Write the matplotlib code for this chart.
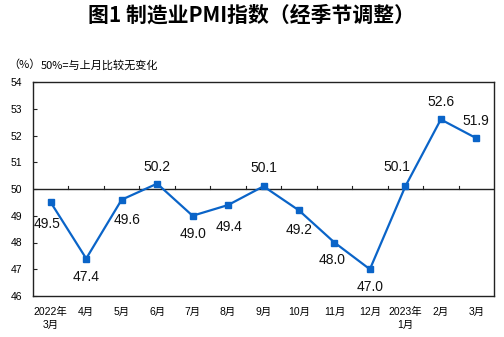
import matplotlib
matplotlib.use("Agg")
import matplotlib.pyplot as plt

plt.rcParams["font.family"] = ["Liberation Sans", "Noto Sans CJK SC", "DejaVu Sans"]

months = ["2022年\n3月", "4月", "5月", "6月", "7月", "8月", "9月",
          "10月", "11月", "12月", "2023年\n1月", "2月", "3月"]
pmi = [49.5, 47.4, 49.6, 50.2, 49.0, 49.4, 50.1, 49.2, 48.0, 47.0, 50.1, 52.6, 51.9]
# label offsets in pixels (dx, dy downward)
label_offsets = [(-4, 22), (0, 18), (5, 20), (0, -17), (0, 18), (1, 22), (0, -18),
                 (0, 20), (-2, 18), (0, 18), (-8, -19), (0, -17), (0, -17)]
y_ticks = [46, 47, 48, 49, 50, 51, 52, 53, 54]

BLUE = "#0A64C8"
DPI = 100

fig = plt.figure(figsize=(5.04, 3.37), dpi=DPI)
ax = fig.add_axes([33 / 504, 41 / 337, 461 / 504, 214 / 337])

x = list(range(len(pmi)))
ax.plot(x, pmi, color=BLUE, lw=1.6, marker="s", ms=4.2, zorder=3)

for xi, v, (dx, dy) in zip(x, pmi, label_offsets):
    ax.annotate(f"{v:.1f}", (xi, v), xytext=(dx * 0.72, -dy * 0.72),
                textcoords="offset points", ha="center", va="center",
                fontsize=10, color="#111111")

# 50% reference line with small separators between months
ax.axhline(50, color="#222222", lw=1.0, zorder=2)
for b in range(len(pmi) - 1):
    ax.plot([b + 0.5, b + 0.5], [50, 50.11], color="#222222", lw=0.8, zorder=2)

ax.set_xlim(-0.5, len(pmi) - 0.5)
ax.set_ylim(46, 54)
ax.set_yticks(y_ticks)
ax.set_xticks(x)
ax.set_xticklabels(months, fontsize=7.5, linespacing=1.3,
                   family=["Liberation Sans", "Noto Sans CJK SC"])
ax.tick_params(axis="x", length=0, pad=8)
ax.tick_params(axis="y", direction="in", length=3, width=0.8, labelsize=7.5, pad=8,
               color="#222222")
for s in ax.spines.values():
    s.set_color("#222222")
    s.set_linewidth(1.0)

fig.text(0.5, 1 - 15 / 337, "图1 制造业PMI指数（经季节调整）", ha="center", va="center",
         fontsize=15, fontweight="bold", family=["Noto Sans CJK SC", "DejaVu Sans"])
fig.text(8 / 504, 1 - 65 / 337, "（%）", ha="left", va="center", fontsize=8,
         family=["Noto Sans CJK SC", "DejaVu Sans"])
fig.text(41 / 504, 1 - 65 / 337, "50%=与上月比较无变化", ha="left", va="center",
         fontsize=8, family=["Noto Sans CJK SC", "DejaVu Sans"])

fig.savefig("out.png", dpi=DPI)
